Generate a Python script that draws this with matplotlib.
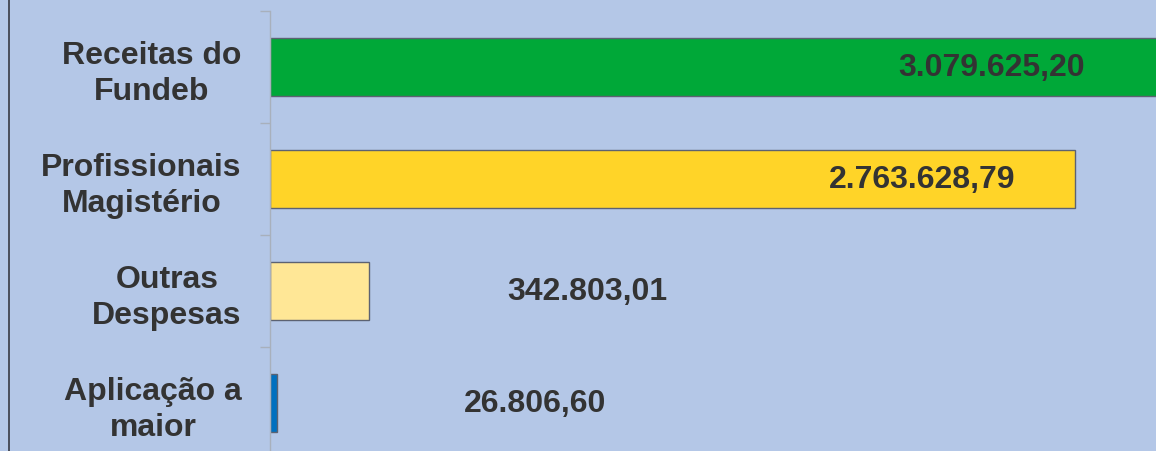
import matplotlib.pyplot as plt
from matplotlib.lines import Line2D

categories = ["Receitas do\nFundeb", "Profissionais\nMagistério", "Outras\nDespesas", "Aplicação a\nmaior"]
values = [3079625.20, 2763628.79, 342803.01, 26806.60]
value_labels = ["3.079.625,20", "2.763.628,79", "342.803,01", "26.806,60"]
label_x = [2479000, 2242000, 1092000, 913000]
colors = ["#00a838", "#ffd428", "#ffe796", "#0070c0"]

BG = "#b4c7e7"
TXT = "#333333"

W, H = 1156, 452
fig = plt.figure(figsize=(W / 100, H / 100), dpi=100, facecolor=BG)

xmax = 3.1e6
px_per_unit = 805 / 2763628.79
ax_w = xmax * px_per_unit
ax = fig.add_axes([269.5 / W, (452 - 460) / H, ax_w / W, 448 / H])
ax.set_facecolor(BG)

y = list(range(len(categories)))
ax.barh(y, values, height=0.51, color=colors, edgecolor="#5c6272", linewidth=1)

for yi, lab, lx in zip(y, value_labels, label_x):
    ax.text(lx, yi, lab, ha="center", va="center", fontsize=23,
            fontweight="bold", color=TXT, family="Liberation Sans")

ax.set_xlim(0, xmax)
ax.set_ylim(3.5, -0.5)
ax.set_xticks([])
ax.set_yticks(y)
ax.set_yticklabels(categories, fontsize=23, fontweight="bold", color=TXT,
                   family="Liberation Sans", multialignment="center", linespacing=1.22)
ax.set_yticks([-0.5, 0.5, 1.5, 2.5, 3.5], minor=True)
ax.tick_params(axis="y", which="major", length=0, pad=20)
ax.tick_params(axis="y", which="minor", length=7, color="#a8b0bc", width=1)

for s in ["top", "right", "bottom"]:
    ax.spines[s].set_visible(False)
ax.spines["left"].set_color("#a8b0bc")
ax.spines["left"].set_linewidth(1)

fig.add_artist(Line2D([8.5 / W, 8.5 / W], [0, 1], transform=fig.transFigure,
                      color="#404450", linewidth=1.3))

fig.savefig("out.png", dpi=100, facecolor=BG)
